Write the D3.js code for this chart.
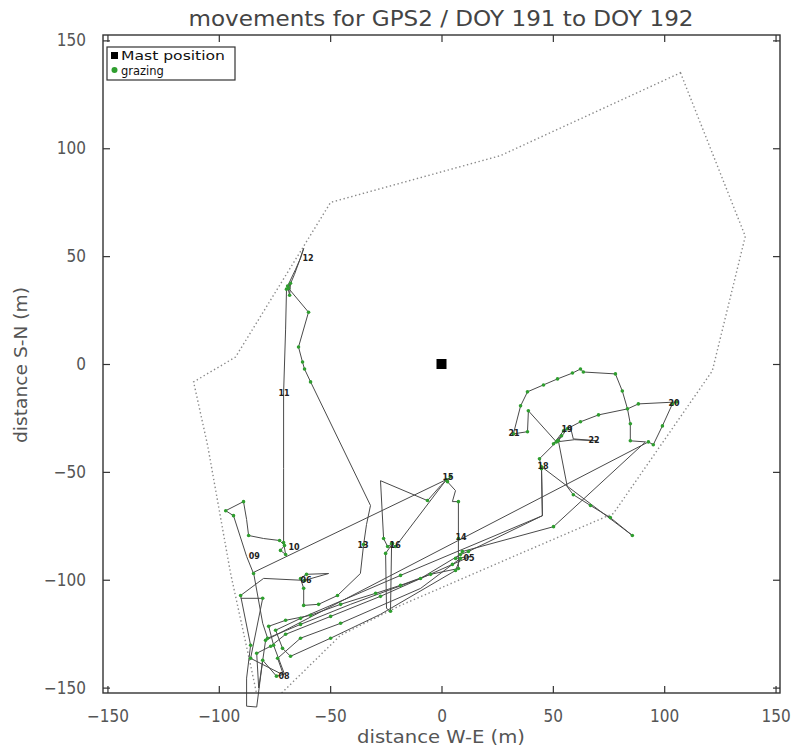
<!DOCTYPE html>
<html>
<head>
<meta charset="utf-8">
<title>movements for GPS2 / DOY 191 to DOY 192</title>
<script src="https://d3js.org/d3.v7.min.js"></script>
<style>
  body { margin: 0; background: #fff; }
  text { font-family: "DejaVu Sans", "Liberation Sans", sans-serif; }
  .axis text { font-size: 17px; fill: #555; font-stretch: condensed; }
  .axis line { stroke: #333; stroke-width: 1.2; }
  .axis path { display: none; }
  .track { fill: none; stroke: #4a4a4a; stroke-width: 1; }
  .fence { fill: none; stroke: #8a8a8a; stroke-width: 1.4; stroke-dasharray: 1.4,2.6; }
  .hour { font-size: 8px; font-weight: bold; fill: #222; }
</style>
</head>
<body>
<svg width="795" height="751"></svg>
<script>
//---------------- DATA ----------------
// GPS track (distance from mast, metres)
var trackX = [
  -84.4,-87.5,-93.4,-96.9,-88.9,-87.5,-86.6,-79.9,-72.7,-70.5,
  -72.3,-70.0,-70.9,-70.9,-70.9,-70.0,-69.6,-67.8,-68.2,-69.1,
  -65.5,-63.3,-61.9,-63.7,-66.0,-68.7,-59.7,-64.2,-62.4,-61.5,
  -58.8,-31.9,-33.7,-35.0,-36.4,-46.7,-55.2,-61.9,-61.9,-63.3,
  -60.6,-50.7,-61.5,-79.9,-90.2,-85.7,-87.5,-87.5,-83.0,-80.3,
  -74.1,-70.5,-75.4,-77.6,-70.0,-58.8,-45.3,-29.6,-18.4,-4.9,
  7.6,7.6,7.6,4.9,6.3,2.7,4.0,-0.4,-6.3,-27.4,
  -26.0,-24.2,-22.0,-25.1,-24.7,-22.9,-22.4,-20.6,2.2,-84.4,
  -80.3,-78.1,-63.3,-40.8,-9.4,8.5,12.1,45.3,44.9,44.0,
  52.1,53.9,50.3,54.8,57.9,59.2,70.0,59.7,51.6,39.0,
  38.6,32.3,35.5,38.6,45.8,52.1,58.8,62.4,63.7,78.1,
  81.2,83.5,84.8,84.8,91.6,50.3,9.4,6.3,13.0,4.9,
  -27.4,-49.8,-70.0,-76.7,-83.0,-82.1,-79.0,92.9,95.1,99.2,
  103.7,105.5,88.4,83.5,70.5,62.4,56.5,52.5,56.5,59.2,
  66.9,75.8,85.7,44.9,45.3,-18.4,-63.3,-74.5,-71.4,-67.8,
  -49.8,-27.4,6.3,8.5,-9.4,-45.3,-63.3,-73.6,-70.9,-85.7,
  -80.3,-90.2
];
var trackY = [
  -97.1,-89.2,-70.3,-68.0,-63.8,-72.1,-79.5,-80.9,-81.8,-84.1,
  -86.4,-88.3,-82.8,-48.5,-13.4,16.2,34.7,37.4,31.9,36.1,
  43.9,49.0,53.6,48.1,41.6,35.1,24.0,7.9,0.9,-2.3,
  -8.3,-65.6,-74.4,-83.7,-97.1,-107.3,-111.4,-111.9,-104.0,-99.4,
  -97.5,-97.1,-100.3,-99.4,-107.3,-130.4,-145.6,-158.6,-159.0,-137.3,
  -144.7,-143.8,-130.4,-121.6,-118.8,-116.5,-111.4,-106.3,-102.6,-97.5,
  -94.8,-80.9,-63.8,-63.8,-58.7,-54.6,-52.2,-56.4,-63.3,-54.1,
  -80.9,-84.6,-83.2,-87.8,-113.3,-114.6,-83.2,-84.6,-53.6,-96.6,
  -120.2,-127.1,-120.7,-111.4,-99.4,-88.3,-86.9,-70.3,-48.5,-43.9,
  -35.6,-33.3,-37.0,-31.0,-29.1,-34.7,-35.6,-35.1,-36.1,-21.7,
  -31.4,-32.4,-19.4,-12.9,-9.7,-6.9,-4.2,-2.3,-3.7,-4.6,
  -12.5,-20.8,-27.7,-35.6,-36.1,-75.4,-86.9,-90.1,-89.2,-92.9,
  -107.7,-117.0,-125.3,-130.8,-134.1,-150.2,-128.1,-36.1,-37.4,-28.7,
  -18.5,-17.6,-18.5,-20.8,-23.6,-26.8,-30.0,-35.6,-56.9,-60.6,
  -65.6,-71.2,-79.5,-47.6,-70.3,-98.0,-117.9,-123.4,-131.8,-135.5,
  -127.1,-116.0,-95.7,-90.1,-104.0,-120.2,-127.1,-136.4,-144.2,-136.4,
  -108.6,-108.6
];
// 1 = grazing fix (green dot)
var grazing = [
  1,0,1,1,1,0,1,0,1,1,
  1,1,1,0,0,0,1,1,1,1,
  0,0,0,0,0,1,1,1,1,1,
  1,0,0,1,0,1,1,1,1,1,
  1,0,1,0,1,1,0,0,0,1,
  1,0,1,1,1,1,1,1,1,1,
  1,1,1,0,0,1,1,0,1,0,
  1,1,1,1,0,1,1,1,1,0,
  0,1,1,0,1,1,1,0,1,1,
  1,1,1,1,0,0,0,0,1,1,
  1,1,1,1,1,1,1,1,1,1,
  1,1,1,1,0,1,1,1,0,1,
  1,1,1,1,1,0,1,1,1,1,
  1,1,1,0,1,1,1,1,0,1,
  1,1,1,1,0,1,1,1,1,1,
  1,0,1,1,0,1,1,1,0,1,
  1,0
];

// paddock boundary
var fenceX = [107.3,136.4,121.6,77.2,35.5,-18.4,-45.3,-70.9,-81.2,-85.7,-94.7,-105.0,-111.3,-92.5,-49.8,26.5];
var fenceY = [135.0,59.2,-3.2,-69.3,-87.8,-111.9,-125.7,-151.6,-161.8,-139.6,-97.1,-37.9,-8.3,3.2,74.9,96.6];

// hour marks along the track
var hourText = ["09","10","11","12","13","16","15","14","05","06","08","18","21","19","22","20"];
var hourX = [-86.6,-68.7,-73.2,-62.4,-37.7,-23.3,0.4,6.3,9.9,-63.3,-73.2,43.1,30.1,53.9,66.0,101.9];
var hourY = [-90.6,-86.0,-14.8,47.6,-85.1,-85.1,-53.6,-81.4,-91.1,-101.7,-146.1,-48.5,-33.3,-31.4,-36.5,-19.4];

var mastX = [0], mastY = [0];
var xTicks = [-150,-100,-50,0,50,100,150];
var yTicks = [-150,-100,-50,0,50,100,150];

//---------------- SETUP ----------------
var svg = d3.select("svg");
var pLeft = 103, pRight = 780, pTop = 35, pBottom = 693;

var xs = d3.scaleLinear().domain([-152, 152]).range([pLeft, pRight]);
var ys = d3.scaleLinear().domain([-152.5, 152.5]).range([pBottom, pTop]);

// polyline through the scales
function pathOf(vx, vy, closed) {
  var s = "";
  for (var i = 0; i < vx.length; i++) {
    s += (i ? "L" : "M") + xs(vx[i]).toFixed(1) + "," + ys(vy[i]).toFixed(1);
  }
  return closed ? s + "Z" : s;
}

svg.append("rect").attr("width", 795).attr("height", 751).attr("fill", "#fff");

svg.append("defs").append("clipPath").attr("id", "plotclip")
  .append("rect").attr("x", pLeft).attr("y", pTop)
  .attr("width", pRight - pLeft).attr("height", pBottom - pTop);

// title
svg.append("text")
  .attr("x", 441).attr("y", 26)
  .attr("text-anchor", "middle")
  .attr("font-size", 21).attr("fill", "#444")
  .attr("textLength", 505).attr("lengthAdjust", "spacingAndGlyphs")
  .text("movements for GPS2 / DOY 191 to DOY 192");

//---------------- FENCE ----------------
try {
  svg.append("path")
    .attr("class", "fence")
    .attr("clip-path", "url(#plotclip)")
    .attr("d", pathOf(fenceX, fenceY, true));
} catch (e) { console.error("fence", e); }

//---------------- TRACK ----------------
try {
  svg.append("path")
    .attr("class", "track")
    .attr("d", pathOf(trackX, trackY, false));
} catch (e) { console.error("track", e); }

try {
  var dots = svg.append("g");
  for (var i = 0; i < trackX.length; i++) {
    if (grazing[i] != 1) continue;
    dots.append("circle")
      .attr("cx", xs(trackX[i]))
      .attr("cy", ys(trackY[i]))
      .attr("r", 1.8)
      .attr("fill", "#2f9e2f");
  }
} catch (e) { console.error("dots", e); }

try {
  var hours = svg.append("g");
  for (var j = 0; j < hourText.length; j++) {
    hours.append("text")
      .attr("class", "hour")
      .attr("x", xs(hourX[j]))
      .attr("y", ys(hourY[j]))
      .text(hourText[j]);
  }
} catch (e) { console.error("hours", e); }

// mast
for (var m = 0; m < mastX.length; m++) {
  svg.append("rect")
    .attr("x", xs(mastX[m]) - 5)
    .attr("y", ys(mastY[m]) - 5)
    .attr("width", 10).attr("height", 10)
    .attr("fill", "#000");
}

//---------------- AXES ----------------
try {
  svg.append("g").attr("class", "axis")
    .attr("transform", "translate(0," + pBottom + ")")
    .call(d3.axisBottom(xs).tickValues(xTicks).tickSize(-7).tickPadding(17));

  svg.append("g").attr("class", "axis")
    .attr("transform", "translate(0," + pTop + ")")
    .call(d3.axisTop(xs).tickValues(xTicks).tickSize(-7).tickFormat(""));

  svg.append("g").attr("class", "axis")
    .attr("transform", "translate(" + pLeft + ",0)")
    .call(d3.axisLeft(ys).tickValues(yTicks).tickSize(-7).tickPadding(17));

  svg.append("g").attr("class", "axis")
    .attr("transform", "translate(" + pRight + ",0)")
    .call(d3.axisRight(ys).tickValues(yTicks).tickSize(-7).tickFormat(""));
} catch (e) { console.error("axes", e); }

svg.append("rect")
  .attr("x", pLeft).attr("y", pTop)
  .attr("width", pRight - pLeft).attr("height", pBottom - pTop)
  .attr("fill", "none").attr("stroke", "#333").attr("stroke-width", 1.4);

// axis titles
svg.append("text")
  .attr("x", 441).attr("y", 743)
  .attr("text-anchor", "middle")
  .attr("font-size", 17).attr("fill", "#555")
  .attr("textLength", 168).attr("lengthAdjust", "spacingAndGlyphs")
  .text("distance W-E (m)");

svg.append("text")
  .attr("transform", "translate(27,365) rotate(-90)")
  .attr("text-anchor", "middle")
  .attr("font-size", 17).attr("fill", "#555")
  .attr("textLength", 156).attr("lengthAdjust", "spacingAndGlyphs")
  .text("distance S-N (m)");

//---------------- LEGEND ----------------
var lg = svg.append("g").attr("transform", "translate(107,47)");
lg.append("rect").attr("width", 128).attr("height", 33)
  .attr("fill", "#fff").attr("stroke", "#333").attr("stroke-width", 1.2);
lg.append("rect").attr("x", 4).attr("y", 5).attr("width", 7).attr("height", 7).attr("fill", "#000");
lg.append("text").attr("x", 14).attr("y", 12.5).attr("font-size", 11.5).attr("fill", "#111")
  .attr("textLength", 104).attr("lengthAdjust", "spacingAndGlyphs")
  .text("Mast position");
lg.append("circle").attr("cx", 7.5).attr("cy", 23).attr("r", 3).attr("fill", "#2f9e2f");
lg.append("text").attr("x", 14).attr("y", 27.5).attr("font-size", 11.5).attr("fill", "#111")
  .text("grazing");
</script>
</body>
</html>
